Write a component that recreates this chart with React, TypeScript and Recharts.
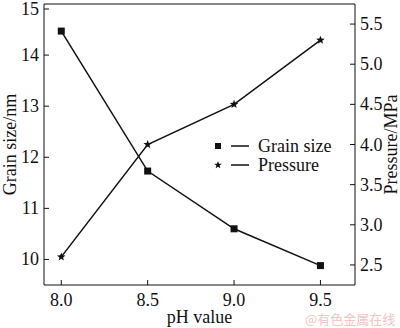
import React from 'react';
import {
  LineChart,
  Line,
  XAxis,
  YAxis,
  ReferenceLine,
  Legend,
} from 'recharts';

document.body.style.margin = '0';

const PH = [8.0, 8.5, 9.0, 9.5];
const GRAIN_SIZE = [14.47, 11.73, 10.6, 9.88];
const PRESSURE = [2.6, 4.0, 4.5, 5.3];

const X_TICKS = [8.0, 8.5, 9.0, 9.5];
const LEFT_TICKS = [10, 11, 12, 13, 14, 15];
const RIGHT_TICKS = [2.5, 3.0, 3.5, 4.0, 4.5, 5.0, 5.5];

const data = PH.map((ph, i) => ({ ph, grain: GRAIN_SIZE[i], pressure: PRESSURE[i] }));

const FONT = '"Liberation Serif", "Times New Roman", serif';
const INK = '#111';
const TICK_MARGIN = 5;
const TICK_LEN = 5;
const txt = { fontFamily: FONT, fontSize: 18 };

function LeftTick({ x, y, payload }: any) {
  const ax = x + TICK_MARGIN;
  return (
    <g>
      <line x1={ax} y1={y} x2={ax + TICK_LEN} y2={y} stroke={INK} strokeWidth={1} />
      <text x={x} y={y} dy={6} textAnchor="end" style={txt} fill={INK}>
        {payload.value}
      </text>
    </g>
  );
}

function RightTick({ x, y, payload }: any) {
  const ax = x - TICK_MARGIN;
  return (
    <g>
      <line x1={ax} y1={y} x2={ax - TICK_LEN} y2={y} stroke={INK} strokeWidth={1} />
      <text x={x} y={y} dy={6} textAnchor="start" style={txt} fill={INK}>
        {Number(payload.value).toFixed(1)}
      </text>
    </g>
  );
}

function BottomTick({ x, y, payload }: any) {
  const ay = y - TICK_MARGIN;
  return (
    <g>
      <line x1={x} y1={ay} x2={x} y2={ay - TICK_LEN} stroke={INK} strokeWidth={1} />
      <text x={x} y={y} dy={16} textAnchor="middle" style={txt} fill={INK}>
        {Number(payload.value).toFixed(1)}
      </text>
    </g>
  );
}

function AxisTitle({ viewBox, value, side }: any) {
  const { x, y, width, height } = viewBox;
  if (side === 'bottom') {
    return (
      <text x={x + width / 2} y={y + height - 5} textAnchor="middle" style={txt} fill={INK}>
        {value}
      </text>
    );
  }
  const cx = side === 'left' ? 10 : x + width - 9;
  const cy = y + height / 2;
  return (
    <text
      x={cx}
      y={cy}
      transform={`rotate(-90 ${cx} ${cy})`}
      textAnchor="middle"
      dominantBaseline="central"
      style={txt}
      fill={INK}
    >
      {value}
    </text>
  );
}

function SquareDot({ cx, cy }: any) {
  if (cx == null || cy == null) return null;
  return <rect x={cx - 3.5} y={cy - 3.5} width={7} height={7} fill={INK} />;
}

function starPath(cx: number, cy: number, r: number) {
  const pts: string[] = [];
  for (let i = 0; i < 10; i++) {
    const rr = i % 2 === 0 ? r : r * 0.42;
    const a = -Math.PI / 2 + (i * Math.PI) / 5;
    pts.push(`${cx + rr * Math.cos(a)},${cy + rr * Math.sin(a)}`);
  }
  return `M${pts.join('L')}Z`;
}

function StarDot({ cx, cy }: any) {
  if (cx == null || cy == null) return null;
  return <path d={starPath(cx, cy, 4.5)} fill={INK} />;
}

function LegendBox() {
  const rows = [
    { label: 'Grain size', star: false },
    { label: 'Pressure', star: true },
  ];
  return (
    <svg width={150} height={42} style={{ display: 'block' }}>
      {rows.map((r, i) => {
        const cy = 10 + i * 19;
        return (
          <g key={r.label}>
            {r.star ? (
              <path d={starPath(18, cy, 4)} fill={INK} />
            ) : (
              <rect x={15} y={cy - 3} width={6} height={6} fill={INK} />
            )}
            <line x1={31} y1={cy} x2={49} y2={cy} stroke={INK} strokeWidth={1.5} />
            <text x={58} y={cy} dy={6} style={txt} fill={INK}>
              {r.label}
            </text>
          </g>
        );
      })}
    </svg>
  );
}

export default function App() {
  return (
    <div style={{ position: 'relative', width: 400, height: 328, background: '#fff' }}>
      <LineChart width={400} height={328} data={data} margin={{ top: 4, right: 0, left: 0, bottom: 0 }}>
        <XAxis
          dataKey="ph"
          type="number"
          domain={[7.9, 9.7]}
          ticks={X_TICKS}
          height={43}
          stroke={INK}
          tickSize={0}
          tickMargin={TICK_MARGIN}
          tick={<BottomTick />}
          label={<AxisTitle value="pH value" side="bottom" />}
        />
        <YAxis
          yAxisId="left"
          domain={[9.5, 15]}
          ticks={LEFT_TICKS}
          width={44}
          stroke={INK}
          tickSize={0}
          tickMargin={TICK_MARGIN}
          tick={<LeftTick />}
          label={<AxisTitle value="Grain size/nm" side="left" />}
        />
        <YAxis
          yAxisId="right"
          orientation="right"
          domain={[2.25, 5.75]}
          ticks={RIGHT_TICKS}
          width={45}
          stroke={INK}
          tickSize={0}
          tickMargin={TICK_MARGIN}
          tick={<RightTick />}
          label={<AxisTitle value="Pressure/MPa" side="right" />}
        />
        <ReferenceLine yAxisId="left" y={15} stroke={INK} strokeWidth={1} />
        <Legend
          layout="vertical"
          verticalAlign="middle"
          align="center"
          wrapperStyle={{ left: 200, top: 136, width: 150 }}
          content={() => <LegendBox />}
        />
        <Line
          yAxisId="left"
          dataKey="grain"
          name="Grain size"
          stroke={INK}
          strokeWidth={1.5}
          dot={<SquareDot />}
          isAnimationActive={false}
        />
        <Line
          yAxisId="right"
          dataKey="pressure"
          name="Pressure"
          stroke={INK}
          strokeWidth={1.5}
          dot={<StarDot />}
          isAnimationActive={false}
        />
      </LineChart>
      <div
        style={{
          position: 'absolute',
          left: 305,
          top: 311,
          fontSize: 13,
          color: '#f2c4c4',
          fontFamily: '"Noto Sans CJK SC", sans-serif',
          lineHeight: '16px',
          whiteSpace: 'nowrap',
        }}
      >
        @有色金属在线
      </div>
    </div>
  );
}
